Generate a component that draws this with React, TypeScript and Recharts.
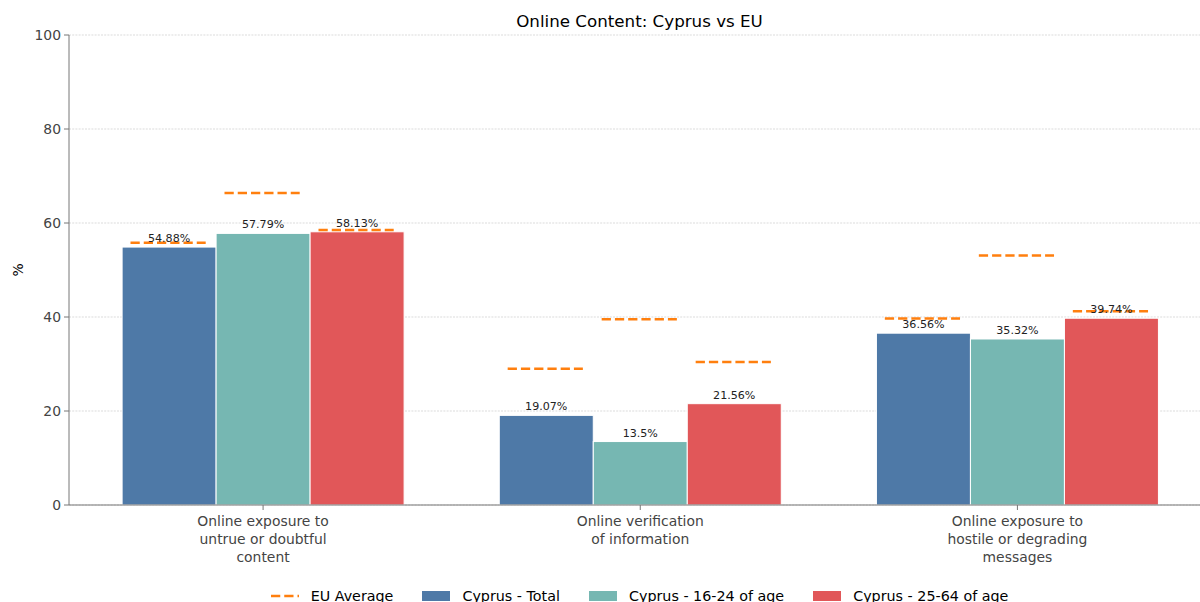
import React from "react";
import { BarChart, Bar, XAxis, YAxis, CartesianGrid, LabelList } from "recharts";

const categories = [
  "Online exposure to\nuntrue or doubtful\ncontent",
  "Online verification\nof information",
  "Online exposure to\nhostile or degrading\nmessages",
];
const cyprusTotal = [54.88, 19.07, 36.56];
const cyprus1624 = [57.79, 13.5, 35.32];
const cyprus2564 = [58.13, 21.56, 39.74];
const euTotal = [55.8, 29.0, 39.7];
const eu1624 = [66.4, 39.5, 53.1];
const eu2564 = [58.5, 30.4, 41.2];
const yTicks = [0, 20, 40, 60, 80, 100];

const seriesNames = ["Cyprus - Total", "Cyprus - 16-24 of age", "Cyprus - 25-64 of age"];
const seriesColors = ["#4e79a7", "#76b7b2", "#e15759"];
const euColor = "#ff7f0e";
const FONT = "DejaVu Sans";

const data = categories.map((c, i) => ({
  category: c,
  total: cyprusTotal[i],
  y1624: cyprus1624[i],
  y2564: cyprus2564[i],
  euTotal: euTotal[i],
  eu1624: eu1624[i],
  eu2564: eu2564[i],
}));

const makeShape = (valKey: string, euKey: string) => (props: any) => {
  const { x, y, width, height, fill, payload } = props;
  const v = payload[valKey];
  const eu = payload[euKey];
  const base = y + height;
  const euY = base - (eu * height) / v;
  const cx = x + width / 2 - 1;
  const half = width * 0.4;
  return (
    <g>
      <rect x={x} y={y} width={width} height={height} fill={fill} stroke="#ffffff" strokeWidth={1} />
      <line
        x1={cx - half}
        x2={cx + half}
        y1={euY}
        y2={euY}
        stroke={euColor}
        strokeWidth={2.5}
        strokeDasharray="9.25 4"
      />
    </g>
  );
};

const CategoryTick = (props: any) => {
  const { x, y, payload } = props;
  const lines = String(payload.value).split("\n");
  return (
    <text x={x} y={y} textAnchor="middle" fill="#444444" fontSize={13.9} fontFamily={FONT}>
      {lines.map((l, i) => (
        <tspan key={i} x={x} dy={i === 0 ? 14 : 17.8}>
          {l}
        </tspan>
      ))}
    </text>
  );
};

const fmt = (v: any) => `${v}%`;

export default function App() {
  return (
    <div
      style={{
        position: "absolute",
        left: 0,
        top: 0,
        width: 1200,
        height: 602,
        overflow: "hidden",
        background: "#ffffff",
        fontFamily: FONT,
      }}
    >
      <div
        style={{
          position: "absolute",
          left: 0,
          width: 1279,
          top: 11,
          textAlign: "center",
          fontSize: 16.7,
          color: "#000000",
          lineHeight: "20px",
        }}
      >
        Online Content: Cyprus vs EU
      </div>
      <div
        style={{
          position: "absolute",
          left: 11,
          top: 270,
          fontSize: 13.9,
          color: "#000000",
          transform: "translate(0,-50%) rotate(-90deg)",
          lineHeight: "16px",
        }}
      >
        %
      </div>
      <BarChart
        width={1206}
        height={602}
        data={data}
        margin={{ top: 35, right: 0, bottom: 0, left: 0 }}
        barCategoryGap={47.6}
        barGap={0}
      >
        <CartesianGrid vertical={false} stroke="#c4c4c4" strokeWidth={0.6} strokeDasharray="2 1.2" />
        <XAxis
          dataKey="category"
          height={97}
          padding={{ left: 5.5, right: 0 }}
          tick={<CategoryTick />}
          tickSize={5}
          tickLine={{ stroke: "#777777" }}
          axisLine={{ stroke: "#777777" }}
          interval={0}
        />
        <YAxis
          domain={[0, 100]}
          ticks={yTicks}
          width={69}
          tickSize={5}
          tickMargin={3}
          tickLine={{ stroke: "#777777" }}
          axisLine={{ stroke: "#777777" }}
          tick={{ fill: "#444444", fontSize: 13.9, fontFamily: FONT }}
        />
        <Bar dataKey="total" fill={seriesColors[0]} isAnimationActive={false} shape={makeShape("total", "euTotal")}>
          <LabelList dataKey="total" position="top" offset={5} formatter={fmt} fill="#222222" fontSize={11.1} fontFamily={FONT} />
        </Bar>
        <Bar dataKey="y1624" fill={seriesColors[1]} isAnimationActive={false} shape={makeShape("y1624", "eu1624")}>
          <LabelList dataKey="y1624" position="top" offset={5} formatter={fmt} fill="#222222" fontSize={11.1} fontFamily={FONT} />
        </Bar>
        <Bar dataKey="y2564" fill={seriesColors[2]} isAnimationActive={false} shape={makeShape("y2564", "eu2564")}>
          <LabelList dataKey="y2564" position="top" offset={5} formatter={fmt} fill="#222222" fontSize={11.1} fontFamily={FONT} />
        </Bar>
      </BarChart>
      <div
        style={{
          position: "absolute",
          left: 0,
          width: 1279,
          top: 587,
          display: "flex",
          justifyContent: "center",
          alignItems: "center",
          fontSize: 14.3,
          color: "#000000",
          lineHeight: "18px",
          whiteSpace: "nowrap",
        }}
      >
        <div style={{ display: "flex", alignItems: "center" }}>
          <svg width={28} height={12} style={{ marginRight: 12 }}>
            <line x1={0} x2={28} y1={6} y2={6} stroke={euColor} strokeWidth={2.5} strokeDasharray="9.25 4" />
          </svg>
          <span>EU Average</span>
        </div>
        {seriesNames.map((n, i) => (
          <div key={n} style={{ display: "flex", alignItems: "center", marginLeft: 29 }}>
            <svg width={28} height={12} style={{ marginRight: 12 }}>
              <rect x={0} y={1} width={28} height={10} fill={seriesColors[i]} />
            </svg>
            <span>{n}</span>
          </div>
        ))}
      </div>
    </div>
  );
}
